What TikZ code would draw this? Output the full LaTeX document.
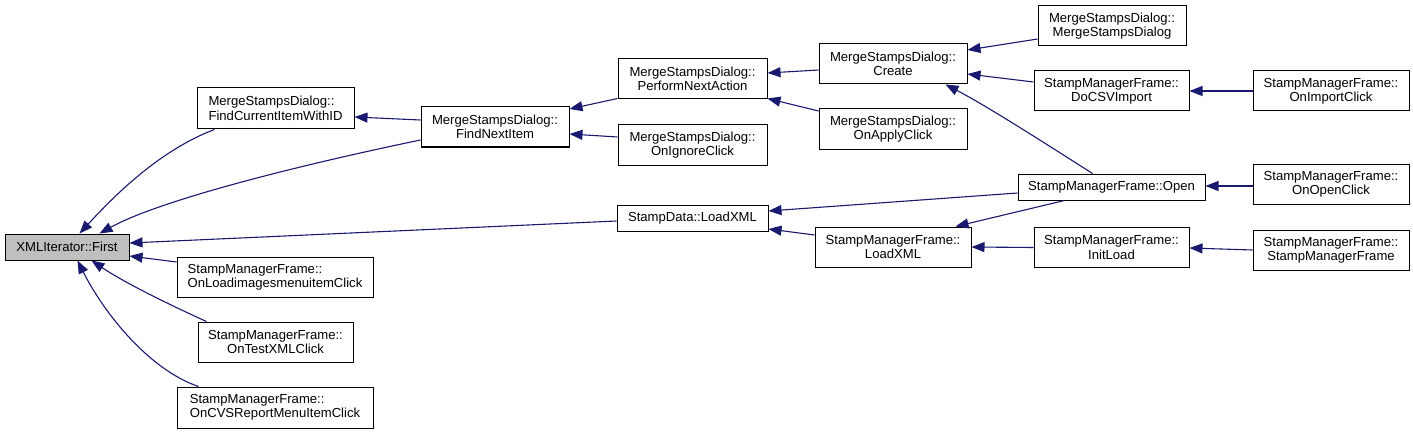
\documentclass[tikz,border=0pt]{standalone}
\usepackage{fontspec}
\setmainfont{Liberation Sans}
\usetikzlibrary{arrows.meta}
\definecolor{edgeblue}{HTML}{191970}
\definecolor{focusgray}{HTML}{BFBFBF}
\tikzset{
  fn/.style={draw=black, line width=1pt, fill=white, inner sep=0pt, align=center,
    font=\fontsize{13.1}{14.4}\selectfont, text=black},
  fnl/.style={fn, align=left},
  focus/.style={fn, fill=focusgray},
  edge/.style={draw=edgeblue, line width=1.1pt, -{Triangle[length=13pt,width=10pt]}},
}
\begin{document}
\begin{tikzpicture}[x=1pt,y=1pt]
\useasboundingbox (0,0) rectangle (1413,-433);
% column 0
\node[focus, minimum width=124pt, minimum height=26pt] (first) at (67,-247) {XMLIterator::First};
% column 1
\node[fnl, minimum width=157pt, minimum height=41pt] (fci) at (275.5,-108.5) {MergeStampsDialog::\\FindCurrentItemWithID};
\node[fnl, minimum width=196pt, minimum height=40pt] (olic) at (275,-277) {StampManagerFrame::\\OnLoadimagesmenuitemClick};
\node[fn, minimum width=155pt, minimum height=40pt] (otx) at (275.5,-342) {StampManagerFrame::\\OnTestXMLClick};
\node[fnl, minimum width=196pt, minimum height=41pt] (ocvs) at (275,-407.5) {StampManagerFrame::\\OnCVSReportMenuItemClick};
% column 2
\node[fn, minimum width=148pt, minimum height=40pt] (fni) at (495,-127) {MergeStampsDialog::\\FindNextItem};
% column 3
\node[fn, minimum width=149pt, minimum height=40pt] (pna) at (692.5,-79) {MergeStampsDialog::\\PerformNextAction};
\node[fn, minimum width=149pt, minimum height=40pt] (oic) at (692.5,-145) {MergeStampsDialog::\\OnIgnoreClick};
\node[fn, minimum width=151pt, minimum height=26pt] (sdl) at (692.5,-218) {StampData::LoadXML};
% column 4
\node[fn, minimum width=148pt, minimum height=40pt] (create) at (893,-64) {MergeStampsDialog::\\Create};
\node[fn, minimum width=148pt, minimum height=40pt] (oac) at (893,-129) {MergeStampsDialog::\\OnApplyClick};
\node[fn, minimum width=156pt, minimum height=40pt] (smfl) at (893,-247) {StampManagerFrame::\\LoadXML};
% column 5
\node[fn, minimum width=148pt, minimum height=40pt] (msd) at (1112,-26) {MergeStampsDialog::\\MergeStampsDialog};
\node[fn, minimum width=155pt, minimum height=40pt] (csv) at (1111.5,-91) {StampManagerFrame::\\DoCSVImport};
\node[fn, minimum width=187pt, minimum height=26pt] (open) at (1111.5,-187) {StampManagerFrame::Open};
\node[fn, minimum width=155pt, minimum height=40pt] (initload) at (1111.5,-247.5) {StampManagerFrame::\\InitLoad};
% column 6
\node[fn, minimum width=156pt, minimum height=40pt] (oimp) at (1331,-91) {StampManagerFrame::\\OnImportClick};
\node[fn, minimum width=156pt, minimum height=40pt] (oopen) at (1331,-184) {StampManagerFrame::\\OnOpenClick};
\node[fn, minimum width=156pt, minimum height=40pt] (smf) at (1331,-250) {StampManagerFrame::\\StampManagerFrame};

% edges into XMLIterator::First
\draw[edge] ([xshift=18pt]fci.south west) .. controls (160,-150) and (115,-195) .. ([xshift=75pt]first.north west);
\draw[edge] ([yshift=-13pt]fni.west) .. controls (300,-165) and (160,-200) .. ([xshift=95pt]first.north west);
\draw[edge] ([yshift=-3pt]sdl.west) -- ([yshift=4pt]first.east);
\draw[edge] ([yshift=15pt]olic.west) -- ([yshift=-9pt]first.east);
\draw[edge] ([xshift=9pt]otx.north west) .. controls (170,-305) and (125,-283) .. ([xshift=87pt]first.south west);
\draw[edge] ([xshift=22pt]ocvs.north west) .. controls (150,-370) and (105,-315) .. ([xshift=73pt]first.south west);
% column 2 -> 1
\draw[edge] ([yshift=7pt]fni.west) -- ([yshift=-8.5pt]fci.east);
% column 3 -> 2
\draw[edge] ([yshift=1pt]pna.south west) -- ([yshift=18pt]fni.east);
\draw[edge] ([yshift=8pt]oic.west) -- ([yshift=-7pt]fni.east);
% column 4 -> 3
\draw[edge] ([yshift=-6pt]create.west) -- ([yshift=6pt]pna.east);
\draw[edge] ([yshift=18pt]oac.west) -- ([yshift=1pt]pna.south east);
\draw[edge] ([yshift=12pt]smfl.west) -- ([yshift=-11pt]sdl.east);
% column 5 -> 4 / 3
\draw[edge] ([yshift=-13pt]msd.west) -- ([yshift=14pt]create.east);
\draw[edge] ([yshift=9pt]csv.west) -- ([yshift=-10pt]create.east);
\draw[edge] ([xshift=75pt]open.north west) .. controls (1040,-140) and (985,-105) .. ([xshift=-22pt]create.south east);
\draw[edge] ([yshift=-6pt]open.west) -- ([yshift=7pt]sdl.east);
\draw[edge] ([xshift=47pt]open.south west) -- ([xshift=-16pt]smfl.north east);
\draw[edge] (initload.west) -- (smfl.east);
% column 6 -> 5
\draw[edge] (oimp.west) -- (csv.east);
\draw[edge] ([yshift=-2pt]oopen.west) -- ([yshift=1pt]open.east);
\draw[edge] (smf.west) -- ([yshift=-0.5pt]initload.east);
\end{tikzpicture}
\end{document}
